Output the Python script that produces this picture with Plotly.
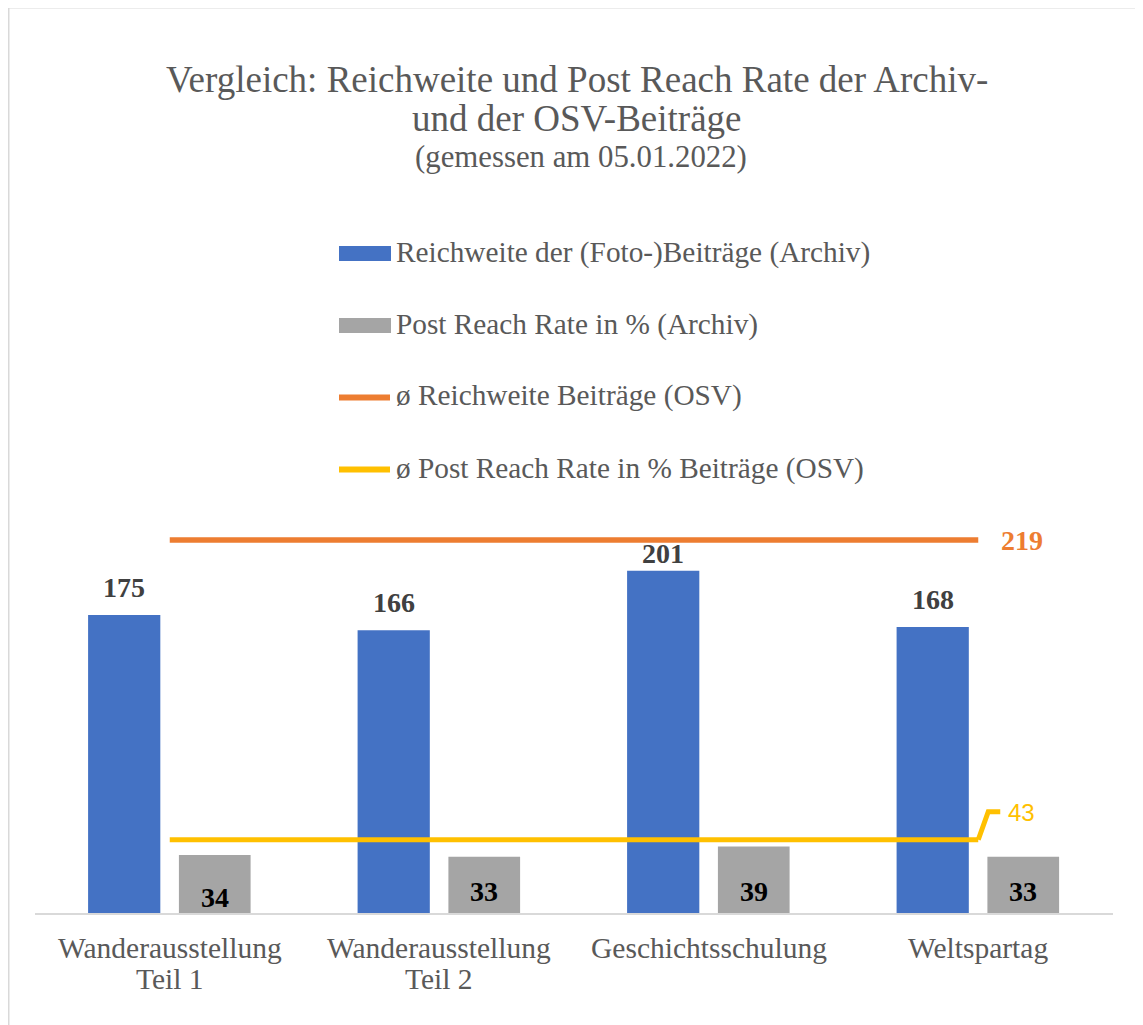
import plotly.graph_objects as go

# ---------------- data ----------------
categories = ["Wanderausstellung\nTeil 1", "Wanderausstellung\nTeil 2", "Geschichtsschulung", "Weltspartag"]
reach_archiv = [175, 166, 201, 168]
rate_archiv = [34, 33, 39, 33]
avg_reach_osv = 219
avg_rate_osv = 43
series_names = [
    "Reichweite der (Foto-)Beiträge (Archiv)",
    "Post Reach Rate in % (Archiv)",
    "ø Reichweite Beiträge (OSV)",
    "ø Post Reach Rate in % Beiträge (OSV)",
]
title_lines = ["Vergleich: Reichweite und Post Reach Rate der Archiv-", "und der OSV-Beiträge"]
subtitle = "(gemessen am 05.01.2022)"

# ---------------- style ----------------
W, H = 1143, 1025          # screen size
OFF = 8                    # default page body margin
PL, PR, PT, PB = 35, 1113, 504, 913   # plot area in screen pixels
PW, PH = PR - PL, PB - PT
BLUE, GRAY, ORANGE, YELLOW = "#4472C4", "#A5A5A5", "#ED7D31", "#FFC000"
TXT = "#595959"
SERIF = "Liberation Serif, Times New Roman, serif"
SANS = "Liberation Sans, Arial, sans-serif"
YMAX = 240.2


def pxx(p):
    return (p - PL) / PW


def pxy(p):
    return (PB - p) / PH


idx = list(range(len(categories)))
fig = go.Figure()

fig.add_trace(go.Bar(x=idx, y=reach_archiv, name=series_names[0], marker_color=BLUE,
                     offset=-0.303, width=0.268, marker_line_width=0, showlegend=False))
fig.add_trace(go.Bar(x=idx, y=rate_archiv, name=series_names[1], marker_color=GRAY,
                     offset=0.034, width=0.266, marker_line_width=0, showlegend=False))
fig.add_trace(go.Scatter(x=idx, y=[avg_reach_osv] * len(idx), name=series_names[2], mode="lines",
                         line=dict(color=ORANGE, width=5.5), showlegend=False))
fig.add_trace(go.Scatter(x=idx, y=[avg_rate_osv] * len(idx), name=series_names[3], mode="lines",
                         line=dict(color=YELLOW, width=5), showlegend=False))

ann = []
shapes = []

# value labels
blue_nudge = [0, 0, -10, 0]
for i, v in enumerate(reach_archiv):
    ann.append(dict(x=i - 0.303 + 0.134, y=v, xref="x", yref="y", text=f"<b>{v}</b>", showarrow=False,
                    yanchor="middle", yshift=27.5 + blue_nudge[i], font=dict(family=SERIF, size=28, color="#404040")))
gray_nudge = [-5.8, 0, 0, 0]
for i, v in enumerate(rate_archiv):
    ann.append(dict(x=i + 0.034 + 0.133, y=0, xref="x", yref="y", text=f"<b>{v}</b>", showarrow=False,
                    yanchor="middle", yshift=21.3 + gray_nudge[i], font=dict(family=SERIF, size=28, color="#000000")))

# line labels
last = idx[-1]
ann.append(dict(x=last, y=avg_reach_osv, xref="x", yref="y", text=f"<b>{avg_reach_osv}</b>", showarrow=False,
                xanchor="center", yanchor="middle", xshift=44, yshift=0,
                font=dict(family=SERIF, size=28, color=ORANGE)))
ann.append(dict(x=last, y=avg_rate_osv, xref="x", yref="y", text=f"{avg_rate_osv}", showarrow=False,
                xanchor="center", yanchor="middle", xshift=43.5, yshift=27,
                font=dict(family=SANS, size=24, color=YELLOW)))
shapes.append(dict(type="path", xref="x", yref="y", xsizemode="pixel", ysizemode="pixel",
                   xanchor=last, yanchor=avg_rate_osv, path="M0,0 L10,28 L22,28",
                   line=dict(color=YELLOW, width=5)))

# category labels
for i, c in enumerate(categories):
    for j, line in enumerate(c.split("\n")):
        ann.append(dict(x=i, y=pxy(948 + 31 * j), xref="x", yref="paper", text=line, showarrow=False,
                        xanchor="center", yanchor="middle", font=dict(family=SERIF, size=29.5, color=TXT)))

# title
for j, t in enumerate(title_lines):
    ann.append(dict(x=pxx(577), y=pxy(79.8 + 39 * j), xref="paper", yref="paper", text=t, showarrow=False,
                    xanchor="center", yanchor="middle", font=dict(family=SERIF, size=37, color=TXT)))
ann.append(dict(x=pxx(581), y=pxy(156.8), xref="paper", yref="paper", text=subtitle, showarrow=False,
                xanchor="center", yanchor="middle", font=dict(family=SERIF, size=30.8, color=TXT)))

# legend (manual)
leg_y = [253.5, 325.5, 397.5, 469.5]
leg_col = [BLUE, GRAY, ORANGE, YELLOW]
for k in range(4):
    yc = leg_y[k]
    if k < 2:
        shapes.append(dict(type="rect", xref="paper", yref="paper", x0=pxx(339), x1=pxx(391),
                           y0=pxy(yc - 7.5), y1=pxy(yc + 7.5), fillcolor=leg_col[k], line_width=0))
    else:
        shapes.append(dict(type="line", xref="paper", yref="paper", x0=pxx(339), x1=pxx(390),
                           y0=pxy(yc), y1=pxy(yc), line=dict(color=leg_col[k], width=6)))
    ann.append(dict(x=pxx(394), y=pxy(yc - 1.5), xref="paper", yref="paper", text=series_names[k],
                    showarrow=False, xanchor="left", yanchor="middle",
                    font=dict(family=SERIF, size=29.3, color=TXT)))

# frame
shapes.append(dict(type="line", xref="paper", yref="paper", x0=pxx(8.5), x1=pxx(8.5), y0=pxy(7.5), y1=pxy(H + 5),
                   line=dict(color="#D9D9D9", width=2)))
shapes.append(dict(type="line", xref="paper", yref="paper", x0=pxx(8.5), x1=pxx(W + 5), y0=pxy(7.5), y1=pxy(7.5),
                   line=dict(color="#D9D9D9", width=2)))

fig.update_layout(
    width=W - OFF, height=H - OFF,
    margin=dict(l=PL - OFF, r=W - PR, t=PT - OFF, b=H - PB, autoexpand=False),
    paper_bgcolor="white", plot_bgcolor="white",
    barmode="overlay",
    showlegend=False,
    annotations=ann, shapes=shapes,
    xaxis=dict(range=[-0.5, 3.5], showgrid=False, zeroline=False, showticklabels=False,
               showline=True, linecolor="#D9D9D9", linewidth=2, ticks=""),
    yaxis=dict(range=[0, YMAX], showgrid=False, zeroline=False, showticklabels=False, showline=False),
)

fig.write_html("out.html")
